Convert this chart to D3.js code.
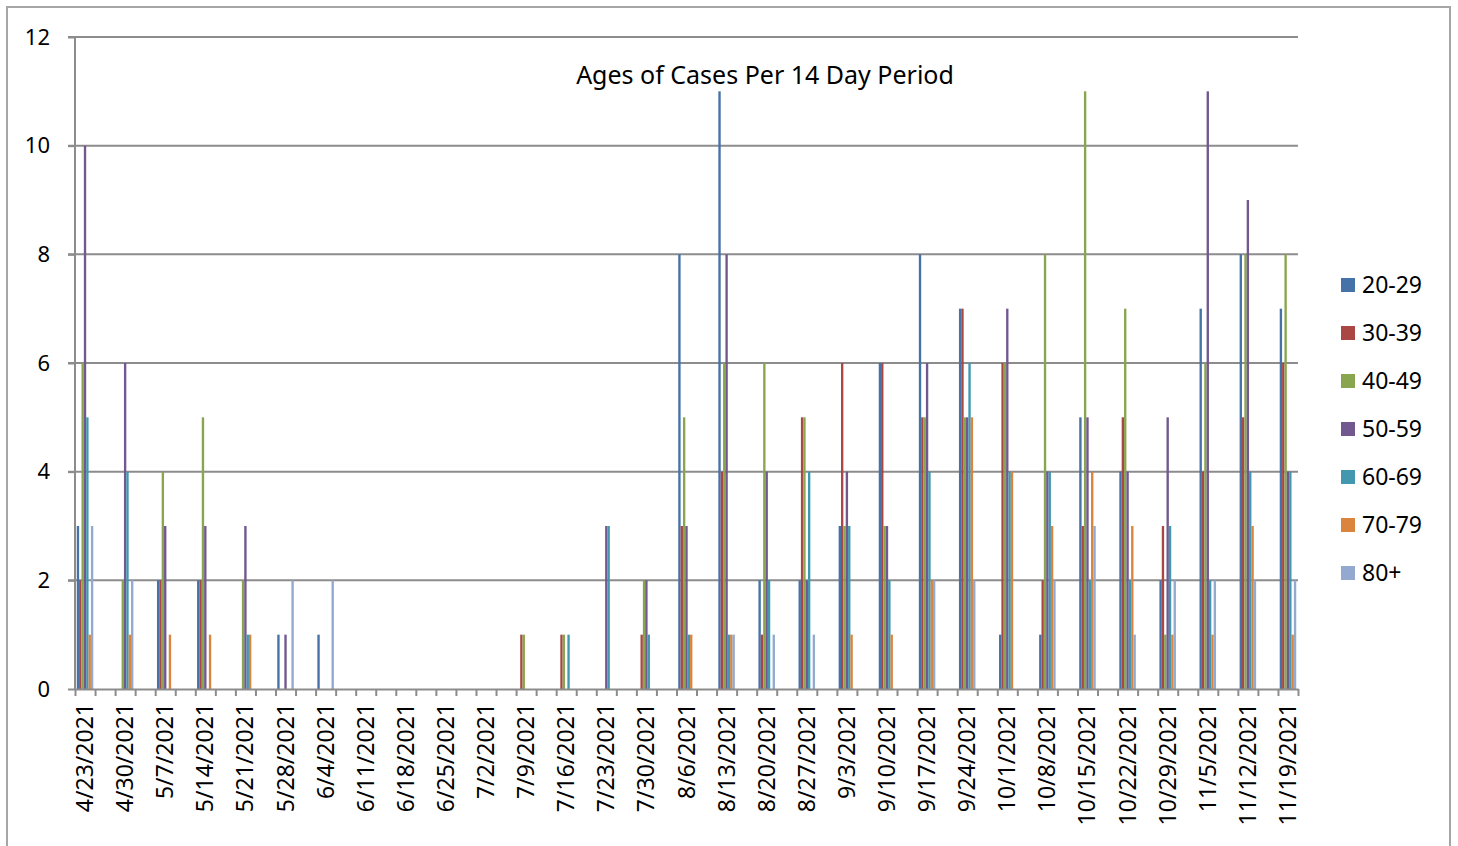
<!DOCTYPE html>
<html>
<head>
<meta charset="utf-8">
<script src="https://cdn.jsdelivr.net/npm/d3@7"></script>
<style>
  body { margin: 0; background: #fff; }
  svg text { font-family: "Noto Sans", "Open Sans", sans-serif; fill: #000; }
</style>
</head>
<body>
<div id="svg-container"></div>
<script>
// 데이터
const dates = ["4/23/2021","4/30/2021","5/7/2021","5/14/2021","5/21/2021","5/28/2021","6/4/2021",
  "6/11/2021","6/18/2021","6/25/2021","7/2/2021","7/9/2021","7/16/2021","7/23/2021","7/30/2021",
  "8/6/2021","8/13/2021","8/20/2021","8/27/2021","9/3/2021","9/10/2021","9/17/2021","9/24/2021",
  "10/1/2021","10/8/2021","10/15/2021","10/22/2021","10/29/2021","11/5/2021","11/12/2021","11/19/2021"];

const ages = ["20-29", "30-39", "40-49", "50-59", "60-69", "70-79", "80+"];

const cases20 = [3,0,2,2,0,1,1,0,0,0,0,0,0,0,0,8,11,2,2,3,6,8,7,1,1,5,4,2,7,8,7];
const cases30 = [2,0,2,2,0,0,0,0,0,0,0,1,1,0,1,3,4,1,5,6,6,5,7,6,2,3,5,3,4,5,6];
const cases40 = [6,2,4,5,2,0,0,0,0,0,0,1,1,0,2,5,6,6,5,3,3,5,5,6,8,11,7,1,6,8,8];
const cases50 = [10,6,3,3,3,1,0,0,0,0,0,0,0,3,2,3,8,4,2,4,3,6,5,7,4,5,4,5,11,9,4];
const cases60 = [5,4,0,0,1,0,0,0,0,0,0,0,1,3,1,1,1,2,4,3,2,4,6,4,4,2,2,3,2,4,4];
const cases70 = [1,1,1,1,1,0,0,0,0,0,0,0,0,0,0,1,1,0,0,1,1,2,5,4,3,4,3,1,1,3,1];
const cases80 = [3,2,0,0,0,2,2,0,0,0,0,0,0,0,0,0,1,1,1,0,0,2,2,0,2,3,1,2,2,2,2];

const yTicks = [0, 2, 4, 6, 8, 10, 12];
const series = [cases20, cases30, cases40, cases50, cases60, cases70, cases80];

////////////////////////////  Init  ///////////////////////////////
const width = 1458;
const height = 846;
const margin = { top: 37, right: 160, bottom: 157, left: 75 };

const svg = d3.select("#svg-container").append("svg")
  .attr("width", width)
  .attr("height", height);

// 바깥 테두리
svg.append("rect")
  .attr("x", 7).attr("y", 7)
  .attr("width", 1443).attr("height", 860)
  .attr("fill", "none")
  .attr("stroke", "#a6a6a6")
  .attr("stroke-width", 2);

const colors = ["#4572A7", "#AA4643", "#89A54E", "#71588F", "#4198AF", "#DB843D", "#93A9CF"];
const color = d3.scaleOrdinal().domain(ages).range(colors);

// 날짜 사이에 빈 칸이 하나씩 있음 (슬롯 2개 = 1주)
const nSlots = dates.length * 2 - 1;
const xScale = d3.scaleLinear().domain([0, nSlots]).range([margin.left, width - margin.right]);
const yScale = d3.scaleLinear().domain([0, 12]).range([height - margin.bottom, margin.top]);

const slotW = xScale(1) - xScale(0);
const inner = d3.scaleBand().domain(ages).range([0, slotW]).paddingOuter(0.75);

// gridlines
svg.append("g")
  .selectAll("line")
  .data(yTicks.slice(1))
  .join("line")
  .attr("x1", margin.left - 7)
  .attr("x2", width - margin.right)
  .attr("y1", (d) => yScale(d))
  .attr("y2", (d) => yScale(d))
  .attr("stroke", "#8c8c8c")
  .attr("stroke-width", 2);

// bars
const rows = [];
dates.forEach((d, i) => {
  ages.forEach((a, j) => rows.push({ date: d, slot: i * 2, age: a, value: series[j][i] }));
});

svg.append("g")
  .selectAll("rect")
  .data(rows.filter((d) => d.value > 0))
  .join("rect")
  .attr("x", (d) => xScale(d.slot) + inner(d.age))
  .attr("y", (d) => yScale(d.value))
  .attr("width", inner.bandwidth())
  .attr("height", (d) => yScale(0) - yScale(d.value))
  .attr("fill", (d) => color(d.age));

// y axis
const yAxis = svg.append("g")
  .attr("transform", `translate(${margin.left},0)`)
  .call(d3.axisLeft(yScale).tickValues(yTicks).tickSize(7).tickPadding(18));
yAxis.selectAll("line, path").attr("stroke", "#8c8c8c").attr("stroke-width", 2);
yAxis.select("path").attr("d", `M0,${yScale(0)}V${yScale(12)}`);
yAxis.selectAll("text").style("font-size", "22px");

// x axis
const xAxis = svg.append("g")
  .attr("transform", `translate(0,${yScale(0)})`)
  .call(d3.axisBottom(xScale).tickValues(d3.range(0, nSlots + 1)).tickFormat("").tickSize(7).tickSizeOuter(0));
xAxis.selectAll("line, path").attr("stroke", "#8c8c8c").attr("stroke-width", 2);

svg.append("g")
  .selectAll("text")
  .data(dates)
  .join("text")
  .attr("transform", (d, i) => `translate(${xScale(i * 2 + 0.5) + 8},${yScale(0) + 14}) rotate(-90)`)
  .attr("text-anchor", "end")
  .style("font-size", "23px")
  .text((d) => d);

// title
svg.append("text")
  .attr("x", 765)
  .attr("y", 84)
  .attr("text-anchor", "middle")
  .style("font-size", "25px")
  .text("Ages of Cases Per 14 Day Period");

// legend
const legend = svg.append("g")
  .selectAll("g")
  .data(ages)
  .join("g")
  .attr("transform", (d, i) => `translate(1341,${285 + i * 48})`);

legend.append("rect")
  .attr("x", 0).attr("y", -7)
  .attr("width", 14).attr("height", 14)
  .attr("fill", (d) => color(d));

legend.append("text")
  .attr("x", 21)
  .attr("y", 8)
  .style("font-size", "23px")
  .text((d) => d);
</script>
</body>
</html>
